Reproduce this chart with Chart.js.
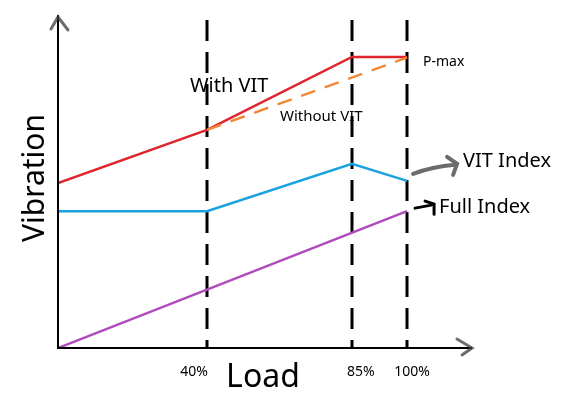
<!DOCTYPE html>
<html>
<head>
<meta charset="utf-8">
<script src="https://cdn.jsdelivr.net/npm/chart.js@4/dist/chart.umd.min.js"></script>
<style>
  html, body { margin: 0; padding: 0; background: #fff; }
  #wrap { width: 563px; height: 396px; }
</style>
</head>
<body>
<div id="wrap"><canvas id="c"></canvas></div>
<script>
// 负载刻度（标签 + 在草图上读出的横向位置）
const loadLabels = ['40%', '85%', '100%'];
const loadPos = [42.7, 84.2, 100];

// 各条曲线（x 为负载位置，y 为振动，0~100）
const withVitX = [0, 42.7, 84.2, 100];
const withVitY = [49.5, 65.5, 87.4, 87.4];
const withoutVitX = [42.7, 100];
const withoutVitY = [65.5, 87.2];
const vitIndexX = [0, 42.7, 84.2, 100];
const vitIndexY = [41.1, 41.1, 55.3, 50.2];
const fullIndexX = [0, 100];
const fullIndexY = [0, 41.1];

const FONT = '"Noto Sans", "Open Sans", sans-serif';

const pts = (xs, ys) => xs.map((x, i) => ({ x, y: ys[i] }));

// 坐标轴、虚线、文字与箭头
const sketchPlugin = {
  id: 'sketch',
  beforeDatasetsDraw(chart) {
    const { ctx, chartArea: ca, scales: { x, y } } = chart;
    ctx.save();
    // 虚线竖线
    ctx.strokeStyle = '#000';
    ctx.lineWidth = 3;
    ctx.setLineDash([21, 11]);
    loadPos.forEach(v => {
      const px = Math.round(x.getPixelForValue(v));
      ctx.beginPath();
      ctx.moveTo(px, y.getPixelForValue(98.5));
      ctx.lineTo(px, ca.bottom);
      ctx.stroke();
    });
    ctx.restore();
  },
  afterDatasetsDraw(chart) {
    const { ctx, chartArea: ca, scales: { x, y } } = chart;
    ctx.save();
    // 坐标轴
    ctx.strokeStyle = '#000';
    ctx.lineWidth = 2;
    ctx.beginPath();
    ctx.moveTo(ca.left, ca.top);
    ctx.lineTo(ca.left, ca.bottom);
    ctx.lineTo(ca.right, ca.bottom);
    ctx.stroke();

    // 坐标轴箭头（灰色手绘风格）
    ctx.strokeStyle = 'rgba(60,60,60,0.75)';
    ctx.lineWidth = 3;
    ctx.lineCap = 'round';
    ctx.beginPath();
    ctx.moveTo(ca.left - 7, ca.top + 14);
    ctx.lineTo(ca.left, ca.top + 2);
    ctx.lineTo(ca.left + 10, ca.top + 15);
    ctx.moveTo(ca.right - 15, ca.bottom - 9);
    ctx.lineTo(ca.right, ca.bottom);
    ctx.lineTo(ca.right - 10, ca.bottom + 7);
    ctx.stroke();

    // 刻度标签
    ctx.fillStyle = '#000';
    ctx.textAlign = 'center';
    ctx.textBaseline = 'alphabetic';
    ctx.font = '14px ' + FONT;
    const shift = [-13, 9, 5];
    loadPos.forEach((v, i) => {
      ctx.fillText(loadLabels[i], x.getPixelForValue(v) + shift[i], ca.bottom + 28);
    });

    // 轴标题
    ctx.font = '32px ' + FONT;
    ctx.fillText('Load', 263, 387);
    ctx.save();
    ctx.translate(44, 178);
    ctx.rotate(-Math.PI / 2);
    ctx.font = '30px ' + FONT;
    ctx.textBaseline = 'alphabetic';
    ctx.fillText('Vibration', 0, 0);
    ctx.restore();

    // 注释文字
    ctx.textAlign = 'left';
    ctx.font = '20px ' + FONT;
    ctx.fillText('With VIT', 190, 92);
    ctx.fillText('VIT Index', 463, 167);
    ctx.fillText('Full Index', 439, 213);
    ctx.font = '15px ' + FONT;
    ctx.fillText('Without VIT', 280, 121);
    ctx.font = '14px ' + FONT;
    ctx.fillText('P-max', 423, 66);

    // VIT Index 箭头（灰色）
    const vx = x.getPixelForValue(100), vy = y.getPixelForValue(vitIndexY[3]);
    ctx.strokeStyle = 'rgba(70,70,70,0.8)';
    ctx.lineWidth = 4;
    ctx.beginPath();
    ctx.moveTo(vx + 6, vy - 7);
    ctx.quadraticCurveTo(vx + 25, vy - 14, vx + 48, vy - 16);
    ctx.moveTo(vx + 40, vy - 24);
    ctx.lineTo(vx + 50, vy - 17);
    ctx.lineTo(vx + 46, vy - 6);
    ctx.stroke();

    // Full Index 箭头（黑色）
    const fy = y.getPixelForValue(fullIndexY[1]);
    ctx.strokeStyle = '#000';
    ctx.lineWidth = 3;
    ctx.beginPath();
    ctx.moveTo(vx + 8, fy - 3);
    ctx.lineTo(vx + 24, fy - 6);
    ctx.moveTo(vx + 18, fy - 10);
    ctx.lineTo(vx + 27, fy - 7);
    ctx.lineTo(vx + 27, fy + 3);
    ctx.stroke();
    ctx.restore();
  }
};

const line = (data, color, dash) => ({
  data,
  borderColor: color,
  borderWidth: 2.5,
  borderDash: dash || [],
  pointRadius: 0,
  tension: 0,
  fill: false
});

new Chart(document.getElementById('c').getContext('2d'), {
  type: 'line',
  data: {
    datasets: [
      line(pts(fullIndexX, fullIndexY), '#b04bbd'),
      line(pts(vitIndexX, vitIndexY), '#1aa2e0'),
      line(pts(withoutVitX, withoutVitY), '#f0883a', [15, 10]),
      line(pts(withVitX, withVitY), '#e0242c')
    ]
  },
  options: {
    responsive: true,
    maintainAspectRatio: false,
    animation: false,
    layout: { padding: { left: 58, top: 15, right: 91, bottom: 48 } },
    plugins: { legend: { display: false }, tooltip: { enabled: false } },
    scales: {
      x: { type: 'linear', min: 0, max: 118.6, display: false },
      y: { type: 'linear', min: 0, max: 100, display: false }
    }
  },
  plugins: [sketchPlugin]
});
</script>
</body>
</html>
